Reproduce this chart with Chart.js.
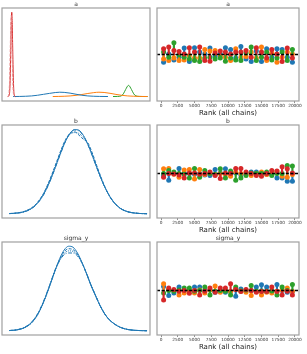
<!DOCTYPE html>
<html>
<head>
<meta charset="utf-8">
<script src="https://cdn.jsdelivr.net/npm/chart.js@4.4.1/dist/chart.umd.min.js"></script>
<style>
    html, body { margin: 0; padding: 0; background: #fff; }
    body { width: 307px; height: 354px; position: relative; overflow: hidden; }
    canvas { position: absolute; }
</style>
</head>
<body>
<script>
// ============ DATA ============

const varNames = ['a', 'b', 'sigma_y'];

// rank histogram bin centres (26 bins over 20000 ranks)
const rankBins = [385, 1154, 1923, 2692, 3462, 4231, 5000, 5769, 6538, 7308, 8077, 8846, 9615,
    10385, 11154, 11923, 12692, 13462, 14231, 15000, 15769, 16538, 17308, 18077, 18846, 19615];
const rankTicks = [0, 2500, 5000, 7500, 10000, 12500, 15000, 17500, 20000];

// deviation from uniform count, per chain (blue, orange, green, red)
const rankA = [
    [-38, 3, -27, -13, 32, -35, 33, 12, 3, 32, -10, 3, 33, 25, -17, 40, -22, -35, 17, -35, 28, -13, 28, 25, -13, -38],
    [-22, -30, -17, -30, -27, -5, -17, -17, 25, 17, 20, -10, -13, -30, 28, -13, -10, 12, -17, 37, -30, 7, -38, -13, 12, 3],
    [12, -13, 58, -2, -13, -22, -30, -35, -17, -13, -22, -17, -33, -17, -27, -30, 7, 37, -30, -13, 12, -27, -17, 12, -30, 25],
    [28, 37, 20, 15, 3, 33, 12, 37, -30, -33, 7, 17, 12, 3, 12, 12, 20, -13, 33, 12, -17, 25, 3, -35, 32, -17]
];
const rankB = [
    [-10, -33, 0, 25, 3, 0, -3, 0, -7, -10, 20, 3, 23, 0, 3, -7, 0, 8, 8, 3, -3, -3, -22, -22, -38, -38],
    [23, 25, -3, -18, 17, 20, -27, 20, -5, 3, -5, 0, -5, -13, 7, 0, 0, -10, 0, 8, -5, 0, 10, -13, -18, -5],
    [0, 15, 7, 0, -3, -22, 25, -18, 15, 0, -5, 23, -22, 12, -33, -22, -10, 3, 0, 0, 8, -10, 0, 0, 40, 37],
    [-18, 0, -2, -7, -22, 3, 3, -3, 0, 7, -10, -25, 3, 0, 25, 25, 8, 0, -10, -13, 0, 15, 12, 33, 23, 3]
];
const rankSigma = [
    [20, -25, -12, 17, 0, 0, 17, 17, 0, 3, -8, -3, -8, -5, -28, 8, 0, 0, 17, 28, 17, -3, 30, 0, -8, -5],
    [33, 5, 0, -22, -12, 0, -12, 3, -12, 3, 22, -8, 0, -5, 7, -2, -8, -25, -5, -22, -8, -12, -3, 3, 12, -3],
    [-12, 0, -3, 3, 12, 13, -3, 0, 17, -22, -3, 0, -3, -22, 17, -2, 3, 25, -3, -2, -3, -2, -22, 17, 0, 30],
    [-47, 12, 5, -3, 0, -13, 0, -22, -3, 13, -8, 13, 13, 33, 5, -5, 5, 0, -8, -5, -5, 17, -5, -22, -3, -22]
];

// KDE of "a" (x in % of panel width, density scaled so the tallest = 100)
const aRedX = [4.0, 5.0, 5.5, 6.0, 6.3, 6.6, 6.9, 7.2, 7.7, 8.2, 9.0];
const aRedY = [0.2, 3, 19, 61, 88, 100, 88, 61, 19, 3, 0.2];
const aRed2X = [3.6, 4.6, 5.1, 5.6, 5.9, 6.2, 6.5, 6.8, 7.3, 7.8, 8.6];
const aRed2Y = [0.2, 3, 18, 58, 84, 96, 84, 58, 18, 3, 0.2];
const aBlueX = [7.5, 12, 16, 20, 24, 28, 32, 36, 39, 42, 46, 50, 54, 58, 62, 66, 71.6];
const aBlueY = [0.3, 0.4, 0.6, 1.0, 1.8, 2.9, 4.0, 5.0, 5.4, 5.2, 4.3, 3.0, 1.8, 1.0, 0.6, 0.4, 0.3];
const aOrangeX = [34.3, 38, 42, 46, 50, 54, 58, 62, 65.5, 69, 73, 77, 81, 85, 89, 93, 98.4];
const aOrangeY = [0.3, 0.4, 0.6, 1.0, 1.7, 2.7, 3.9, 4.9, 5.4, 5.1, 4.1, 2.8, 1.7, 1.0, 0.6, 0.4, 0.3];
const aGreenX = [75, 78, 80.5, 82, 83.5, 85.5, 87.5, 89, 90.5, 93, 95.5, 98.4];
const aGreenY = [0.3, 0.4, 1.0, 3.5, 8.5, 13.5, 8.5, 3.5, 1.0, 0.4, 0.3, 0.3];

// KDE of "b", one line per chain
const bX = [5, 10, 15, 20, 24, 28, 31, 34, 37, 40, 43, 46, 49, 52, 55, 58, 61, 64, 67, 70, 73, 76, 80, 85, 90, 95, 98];
const bChains = [
    [0.2, 0.8, 2.4, 6.4, 12.7, 22.8, 33.2, 45.8, 59.7, 73.7, 86.1, 95.2, 99.7, 98.8, 92.7, 82.3, 69.1, 55.0, 41.4, 29.5, 19.9, 12.7, 6.4, 2.4, 0.8, 0.2, 0.1],
    [0.3, 1.0, 2.8, 7.0, 13.5, 24, 35, 48, 62, 76, 88, 95, 97, 93, 88, 84, 72, 57, 43, 30, 20, 12.5, 6.2, 2.3, 0.8, 0.2, 0.1],
    [0.2, 0.9, 2.6, 6.8, 13.2, 23.5, 34.5, 47, 61, 75, 87, 94, 96, 95, 90, 82, 70, 56, 42, 30, 20.5, 13, 6.6, 2.5, 0.8, 0.2, 0.1],
    [0.2, 0.7, 2.2, 6.0, 12.2, 22, 32.5, 45, 59, 73, 86, 95.5, 99, 98, 92, 82, 68.5, 54.5, 41, 29.5, 19.8, 12.6, 6.3, 2.4, 0.8, 0.2, 0.1]
];

// KDE of "sigma_y", one line per chain
const sigmaX = [5, 10, 15, 20, 24, 27, 30, 33, 36, 39, 42, 45, 48, 51, 54, 57, 60, 63, 66, 69, 72, 76, 80, 85, 90, 95, 98];
const sigmaChains = [
    [0.25, 1.0, 3.5, 9.5, 19, 29.5, 42.5, 57, 72, 85.5, 95.5, 100, 98.8, 92, 81, 68, 54, 42, 30.5, 21, 14, 8, 4, 1.5, 0.5, 0.15, 0.05],
    [0.3, 1.1, 3.7, 10, 19.5, 30, 43, 57.5, 72, 84.5, 93.5, 97, 96, 90.5, 80.5, 68, 54.5, 42.5, 31, 21.5, 14, 8, 4, 1.5, 0.5, 0.15, 0.05],
    [0.25, 1.0, 3.4, 9.2, 18.5, 29, 42, 56.5, 71.5, 83.5, 91.5, 94.5, 94, 89.5, 80.5, 68.5, 55, 43, 31, 21, 14, 8.2, 4.2, 1.6, 0.5, 0.15, 0.05],
    [0.3, 1.2, 3.9, 10.3, 20, 30.5, 43.5, 58, 72.5, 83, 90, 92, 92, 88.5, 80.5, 68.5, 55, 42.5, 30.5, 21, 13.8, 8, 4, 1.5, 0.5, 0.15, 0.05]
];

// ============ STYLE / LAYOUT ============

const COLORS = ['#1f77b4', '#ff7f0e', '#2ca02c', '#d62728'];
const CHAIN_DASH = [[], [3, 1.5], [1, 1], [4, 1.5, 1, 1.5]];
const FONT = 'DejaVu Sans';
const FRAME_COLOR = '#a0a0a0';
const ROW_TOPS = [8, 125, 242];
const BOX_H = 93;
const TITLE_H = 8;
const AXIS_H = 16;
const RANK_MIN = -600, RANK_MAX = 20600;

Chart.defaults.font.family = FONT;
Chart.defaults.animation = false;

const framePlugin = {
    id: 'frame',
    afterDatasetsDraw(chart) {
        const { ctx, chartArea: a } = chart;
        ctx.save();
        ctx.strokeStyle = FRAME_COLOR;
        ctx.lineWidth = 1.2;
        ctx.strokeRect(a.left, a.top, a.right - a.left, a.bottom - a.top);
        ctx.restore();
    }
};

function makeCanvas(left, top, w, h) {
    const c = document.createElement('canvas');
    c.width = w;
    c.height = h;
    c.style.left = left + 'px';
    c.style.top = top + 'px';
    document.body.appendChild(c);
    return c;
}

function titleOpts(text) {
    return {
        display: true, text,
        font: { family: FONT, size: 6, lineHeight: 1, weight: 'normal' },
        color: '#333',
        padding: { top: 1, bottom: 1 }
    };
}

function pairs(xs, ys) {
    return xs.map((x, i) => ({ x, y: ys[i] }));
}

function kdeLine(xs, ys, color, dash) {
    return {
        data: pairs(xs, ys),
        showLine: true,
        borderColor: color,
        borderWidth: 1,
        borderDash: dash,
        pointRadius: 0,
        cubicInterpolationMode: 'monotone'
    };
}

function buildKde(rowIdx, datasets) {
    const top = ROW_TOPS[rowIdx] - TITLE_H;
    const canvas = makeCanvas(1, top, 150, TITLE_H + BOX_H + 1);
    new Chart(canvas, {
        type: 'scatter',
        data: { datasets },
        options: {
            responsive: false,
            layout: { padding: { left: 1, right: 1, top: 0, bottom: 1 } },
            plugins: { legend: { display: false }, tooltip: { enabled: false }, title: titleOpts(varNames[rowIdx]) },
            scales: {
                x: { type: 'linear', display: false, min: 0, max: 100 },
                y: { type: 'linear', display: false, min: -5, max: 105 }
            }
        },
        plugins: [framePlugin]
    });
}

function buildRank(rowIdx, chains, yMin, yMax) {
    const top = ROW_TOPS[rowIdx] - TITLE_H;
    const canvas = makeCanvas(153, top, 150, TITLE_H + BOX_H + AXIS_H);
    const datasets = [{
        data: [{ x: RANK_MIN, y: 0 }, { x: RANK_MAX, y: 0 }],
        showLine: true,
        borderColor: '#000',
        borderWidth: 1.3,
        borderDash: [3, 1.6],
        pointRadius: 0,
        order: -1
    }];
    chains.forEach((vals, c) => {
        datasets.push({
            type: 'bar',
            data: rankBins.map((b, i) => ({ x: b, y: [0, vals[i]] })),
            backgroundColor: COLORS[c],
            barThickness: 1.5,
            grouped: false,
            order: (3 - c) * 2 + 1
        });
        datasets.push({
            data: pairs(rankBins, vals),
            pointRadius: 2.5,
            pointBorderWidth: 0,
            pointBackgroundColor: COLORS[c],
            pointBorderColor: COLORS[c],
            order: (3 - c) * 2
        });
    });
    new Chart(canvas, {
        type: 'scatter',
        data: { datasets },
        options: {
            responsive: false,
            layout: { padding: { left: 1, right: 1, top: 0, bottom: 0 } },
            plugins: { legend: { display: false }, tooltip: { enabled: false }, title: titleOpts(varNames[rowIdx]) },
            scales: {
                x: {
                    type: 'linear', offset: false, min: RANK_MIN, max: RANK_MAX,
                    afterFit(s) { s.height = AXIS_H; },
                    afterBuildTicks(s) { s.ticks = rankTicks.map(v => ({ value: v })); },
                    border: { display: false },
                    grid: { offset: false, drawOnChartArea: false, drawTicks: true, tickLength: 2, color: '#444', lineWidth: 0.6 },
                    ticks: {
                        autoSkip: false, maxRotation: 0, padding: 0.5, color: '#333',
                        font: { size: 4.3, lineHeight: 1 },
                        callback: v => String(v)
                    },
                    title: {
                        display: true, text: 'Rank (all chains)', color: '#222',
                        font: { size: 7, lineHeight: 1 }, padding: 0
                    }
                },
                y: { type: 'linear', display: false, min: yMin, max: yMax }
            }
        },
        plugins: [framePlugin]
    });
}

// ===== Row 1: a =====
buildKde(0, [
    kdeLine(aRed2X, aRed2Y, '#e8898a', CHAIN_DASH[1]),
    kdeLine(aRedX, aRedY, COLORS[3], CHAIN_DASH[0]),
    kdeLine(aBlueX, aBlueY, COLORS[0], CHAIN_DASH[0]),
    kdeLine(aOrangeX, aOrangeY, COLORS[1], CHAIN_DASH[0]),
    kdeLine(aGreenX, aGreenY, COLORS[2], CHAIN_DASH[0])
]);
buildRank(0, rankA, -230, 230);

// ===== Row 2: b =====
buildKde(1, bChains.map((ys, c) => kdeLine(bX, ys, COLORS[0], CHAIN_DASH[c])));
buildRank(1, rankB, -220, 240);

// ===== Row 3: sigma_y =====
buildKde(2, sigmaChains.map((ys, c) => kdeLine(sigmaX, ys, COLORS[0], CHAIN_DASH[c])));
buildRank(2, rankSigma, -220, 240);
</script>
</body>
</html>
